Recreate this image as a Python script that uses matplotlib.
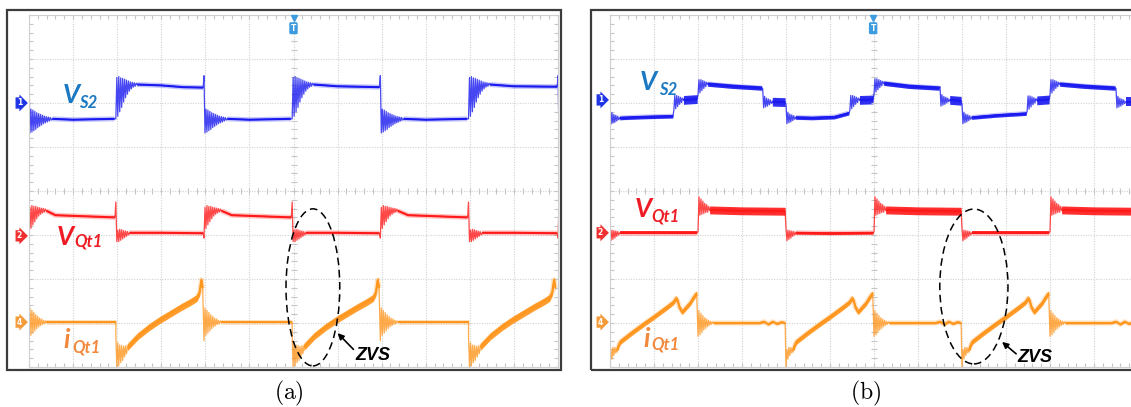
import numpy as np
import matplotlib
matplotlib.use("Agg")
import matplotlib.pyplot as plt
from matplotlib.patches import Ellipse, Rectangle
from matplotlib.ticker import MultipleLocator

plt.rcParams["mathtext.fontset"] = "cm"

# ---------------- panel (a) ----------------
# V_S2: flat segments (time in div, level in div), ringing attached to each segment start
vs2_a_t = [[0.0, 1.0, 1.94], [1.97, 3.0, 3.5, 3.95], [3.97, 5.0, 5.94], [5.97, 7.0, 7.95],
           [7.97, 9.0, 9.94], [9.97, 11.0, 11.98], [12.0, 12.6]]
vs2_a_v = [[1.64, 1.62, 1.64], [2.42, 2.40, 2.36, 2.35], [1.64, 1.62, 1.64], [2.42, 2.38, 2.36],
           [1.64, 1.62, 1.64], [2.42, 2.38, 2.37], [1.64, 1.64]]
ring_vs2_rise_a = [-0.78, 0.16, -0.72, 0.18, -0.62, 0.15, -0.52, 0.14, -0.4, 0.12, -0.3,
                   0.1, -0.22, 0.08, -0.15, 0.06, -0.1, 0.05, -0.06, 0.04, -0.04, 0.03]
ring_vs2_fall_a = [0.98, -0.32, 0.22, -0.3, 0.2, -0.27, 0.17, -0.24, 0.14, -0.2, 0.12, -0.17,
                   0.1, -0.14, 0.08, -0.11, 0.06, -0.09, 0.05, -0.07, 0.04, -0.05, 0.03, -0.03]
vs2_a_rings = [ring_vs2_fall_a, ring_vs2_rise_a, ring_vs2_fall_a, ring_vs2_rise_a,
               ring_vs2_fall_a, ring_vs2_rise_a, ring_vs2_fall_a]

# V_Qt1
vq_a_t = [[0.0, 0.6, 1.95], [1.97, 3.0, 3.95], [3.97, 4.6, 5.95], [5.97, 7.0, 7.95],
          [7.97, 8.6, 9.95], [9.97, 11.0, 11.98], [12.0, 12.5]]
vq_a_v = [[-0.45, -0.55, -0.6], [-0.95, -0.95, -0.96], [-0.45, -0.55, -0.6], [-0.95, -0.95, -0.96],
          [-0.45, -0.55, -0.6], [-0.95, -0.95, -0.96], [-0.45, -0.5]]
ring_vq_rise_a = [-0.62, 0.08, -0.4, 0.12, -0.32, 0.1, -0.25, 0.1, -0.18, 0.08, -0.12, 0.07,
                  -0.08, 0.06, -0.05, 0.05, -0.03, 0.04]
ring_vq_fall_a = [0.7, -0.2, 0.06, -0.2, 0.08, -0.17, 0.07, -0.14, 0.05, -0.11, 0.04, -0.08,
                  0.03, -0.05]
vq_a_rings = [ring_vq_rise_a, ring_vq_fall_a, ring_vq_rise_a, ring_vq_fall_a,
              ring_vq_rise_a, ring_vq_fall_a, ring_vq_rise_a]

# i_Qt1: zero-current flats and the current ramp while the switch conducts
ramp_a_t = [0.0, 0.5, 0.75, 1.0, 1.25, 1.5, 1.7, 1.84, 1.9, 1.94, 1.97]
ramp_a_v = [-3.55, -3.3, -3.1, -2.93, -2.78, -2.63, -2.52, -2.43, -2.3, -2.02, -2.2]
ring_ramp_a = [0.25, -0.45, 0.1, -0.42, 0.05, -0.35, 0.04, -0.3, 0.02, -0.22, 0.03, -0.15]
ring_iq_a = [-0.42, 0.32, -0.3, 0.27, -0.25, 0.22, -0.2, 0.17, -0.15, 0.13, -0.11, 0.09,
             -0.08, 0.07, -0.05, 0.04, -0.04, 0.03]
iq_a_flat_t = [[0.0, 1.97], [3.97, 5.97], [7.97, 9.97]]
iq_a_ramp_start = [1.97, 5.97, 9.97]
iq_a_zero = -2.98

# ---------------- panel (b) ----------------
vs2_b_t = [[0.0, 0.7, 1.43], [1.45, 1.98], [2.0, 2.8, 3.45], [3.47, 3.98], [4.0, 4.6, 5.1, 5.43],
           [5.45, 5.98], [6.0, 6.8, 7.48], [7.5, 7.98], [8.0, 8.8, 9.46], [9.48, 9.98],
           [10.0, 10.8, 11.48], [11.5, 12.0]]
vs2_b_v = [[1.66, 1.68, 1.70], [2.07, 2.09], [2.43, 2.38, 2.34], [2.03, 2.02],
           [1.67, 1.66, 1.68, 1.77], [2.07, 2.08], [2.45, 2.38, 2.34], [2.07, 2.05],
           [1.67, 1.72, 1.76], [2.06, 2.08], [2.43, 2.38, 2.34], [2.03, 2.03]]
vs2_b_band = [0.04, 0.1, 0.05, 0.1, 0.04, 0.1, 0.05, 0.1, 0.04, 0.1, 0.05, 0.1]
ring_vs2_up_b = [-0.25, 0.1, -0.2, 0.1, -0.15, 0.08, -0.1, 0.06, -0.06, 0.04]
ring_vs2_dn_b = [0.3, -0.14, 0.12, -0.12, 0.08, -0.1, 0.06, -0.07, 0.04, -0.04]
vs2_b_rings = [ring_vs2_dn_b, ring_vs2_up_b, ring_vs2_up_b, ring_vs2_dn_b] * 3

vq_b_t = [[0.0, 1.0, 1.98], [2.0, 3.0, 3.98], [4.0, 5.0, 5.98], [6.0, 7.0, 7.98],
          [8.0, 9.0, 9.98], [10.0, 11.0, 12.0]]
vq_b_v = [[-0.95, -0.95, -0.95], [-0.43, -0.45, -0.46], [-0.95, -0.96, -0.95],
          [-0.43, -0.45, -0.46], [-0.95, -0.95, -0.95], [-0.43, -0.45, -0.46]]
vq_b_band = [0.03, 0.09, 0.03, 0.09, 0.03, 0.09]
ring_vq_rise_b = [-0.5, 0.3, -0.12, 0.25, -0.1, 0.2, -0.08, 0.15, -0.06, 0.12, -0.05, 0.08]
ring_vq_fall_b = [0.1, -0.18, 0.06, -0.15, 0.05, -0.12, 0.04, -0.08, 0.03, -0.05]
vq_b_rings = [ring_vq_fall_b, ring_vq_rise_b] * 3

ramp_b_t = [0.0, 0.23, 0.5, 0.8, 1.0, 1.3, 1.45, 1.5, 1.54, 1.58, 1.64, 1.72, 1.82, 1.9, 1.97]
ramp_b_v = [-3.62, -3.43, -3.22, -3.0, -2.86, -2.64, -2.52, -2.44, -2.5, -2.65, -2.75, -2.66,
            -2.55, -2.42, -2.32]
ring_ramp_b = [-0.38, 0.02, -0.2, 0.07, -0.12, 0.06, -0.06]
flat_b_t = [0.0, 1.4, 1.5, 1.6, 1.7, 1.8, 1.9, 1.98]
flat_b_v = [-3.0, -3.0, -2.97, -3.03, -2.97, -3.02, -2.98, -3.0]
ring_iq_b = [-0.3, 0.28, -0.27, 0.22, -0.22, 0.17, -0.16, 0.12, -0.12, 0.09, -0.08, 0.06,
             -0.05, 0.04, -0.03, 0.03]
iq_b_ramp_start = [0.0, 4.0, 8.0]
iq_b_flat_start = [2.0, 6.0, 10.0]

BLUE, RED, ORANGE = "#1a1af0", "#ff1a1a", "#ff961e"
DT = 0.022
W, H = 1131, 407


def px_box(x0, y0, x1, y1):
    return [x0 / W, 1 - y1 / H, (x1 - x0) / W, (y1 - y0) / H]


def build(seg_t, seg_v, rings):
    # full trace plus the settled parts of each segment (drawn heavier)
    t, v, pieces = [], [], []
    for ts, vs, ring in zip(seg_t, seg_v, rings):
        t += [ts[0] + k * DT for k in range(len(ring))]
        v += [vs[0] + r for r in ring]
        pt = [ts[0] + len(ring) * DT] + ts[1:]
        pv = [vs[0]] + vs[1:]
        t += pt
        v += pv
        pieces.append((pt, pv))
    return t, v, pieces


def draw(ax, seg_t, seg_v, rings, color, bands=None):
    t, v, pieces = build(seg_t, seg_v, rings)
    if bands:
        for (pt, pv), bw in zip(pieces, bands):
            ax.fill_between(pt, [y - bw for y in pv], [y + bw for y in pv], color=color, lw=0,
                            alpha=0.9)
    ax.plot(t, v, color=color, lw=0.9, alpha=0.8)
    for pt, pv in pieces:
        ax.plot(pt, pv, color=color, lw=3.6, alpha=0.25, solid_capstyle="butt")
        ax.plot(pt, pv, color=color, lw=1.5, solid_capstyle="butt")


def scope_grid(ax):
    ax.set_xlim(0, 12)
    ax.set_ylim(-4, 4)
    ax.set_xticks(range(13))
    ax.set_yticks(range(-4, 5))
    ax.xaxis.set_minor_locator(MultipleLocator(0.2))
    ax.yaxis.set_minor_locator(MultipleLocator(0.2))
    ax.tick_params(which="both", direction="in", length=3, color="#c6c6c6", width=0.8,
                   top=True, right=True, labelbottom=False, labelleft=False)
    ax.grid(True, color="#d2d2d2", lw=0.8, ls=(0, (1, 1.3)))
    for s in ax.spines.values():
        s.set_color("#cfcfcf")
        s.set_linewidth(0.8)
    ax.set_axisbelow(True)
    marks = np.arange(0, 12.01, 0.2)
    ax.plot(marks, np.zeros_like(marks), ls="none", marker="|", ms=5, color="#c6c6c6", mew=0.8)
    ymarks = np.arange(-4, 4.01, 0.2)
    ax.plot(np.full_like(ymarks, 6.0), ymarks, ls="none", marker="_", ms=5, color="#c6c6c6", mew=0.8)


def scope_marks(ax, trig_x, ch_levels):
    ax.plot(trig_x, 3.93, marker="v", ms=5, color="#3d9be0", clip_on=False, zorder=6)
    ax.text(trig_x, 3.7, "T", ha="center", va="center", fontsize=5.5, color="white",
            fontweight="bold", zorder=6,
            bbox=dict(boxstyle="round,pad=0.2", fc="#3d9be0", ec="none"))
    for (num, lvl), col in zip(ch_levels, ["#2036e6", "#f03030", "#f49b3a"]):
        ax.text(-0.22, lvl, num, ha="center", va="center", fontsize=5.5, color="white",
                fontweight="bold", clip_on=False,
                bbox=dict(boxstyle="rarrow,pad=0.15", fc=col, ec="none"))


def name(ax, x, y, main, sx, sy, sub, color, size=19):
    kw = dict(color=color, fontweight="bold", style="italic", family=["Lato", "DejaVu Sans"],
              va="baseline", ha="left", zorder=7)
    ax.text(x, y, main, fontsize=size, **kw)
    ax.text(sx, sy, sub, fontsize=12, **kw)


fig = plt.figure(figsize=(W / 100, H / 100), dpi=100)
fig.patch.set_facecolor("white")

for box in [(7, 10, 561, 370), (591, 10, 1145, 370)]:
    x0, y0, x1, y1 = box
    fig.add_artist(Rectangle((x0 / W, 1 - y1 / H), (x1 - x0) / W, (y1 - y0) / H,
                             transform=fig.transFigure, fill=False, ec="#3c3c3c", lw=1.6))

ax_a = fig.add_axes(px_box(29, 15, 558, 367))
ax_b = fig.add_axes(px_box(610, 15, 1138, 367))
for ax in (ax_a, ax_b):
    scope_grid(ax)

# panel (a) traces
draw(ax_a, vs2_a_t, vs2_a_v, vs2_a_rings, BLUE)
draw(ax_a, vq_a_t, vq_a_v, vq_a_rings, RED)
iq_t, iq_v, iq_r, iq_bw = [], [], [], []
for flat, t0 in zip(iq_a_flat_t, iq_a_ramp_start):
    iq_t += [flat, [t0 + r for r in ramp_a_t]]
    iq_v += [[iq_a_zero, iq_a_zero], ramp_a_v]
    iq_r += [ring_iq_a, ring_ramp_a]
    iq_bw += [0.02, 0.08]
draw(ax_a, iq_t, iq_v, iq_r, ORANGE, iq_bw)

# panel (b) traces
draw(ax_b, vs2_b_t, vs2_b_v, vs2_b_rings, BLUE, vs2_b_band)
draw(ax_b, vq_b_t, vq_b_v, vq_b_rings, RED, vq_b_band)
iq_t, iq_v, iq_r, iq_bw = [], [], [], []
for t0, t1 in zip(iq_b_ramp_start, iq_b_flat_start):
    iq_t += [[t0 + r for r in ramp_b_t], [t1 + r for r in flat_b_t]]
    iq_v += [ramp_b_v, flat_b_v]
    iq_r += [ring_ramp_b, ring_iq_b]
    iq_bw += [0.06, 0.02]
draw(ax_b, iq_t, iq_v, iq_r, ORANGE, iq_bw)

scope_marks(ax_a, 6.0, [("1", 2.0), ("2", -1.02), ("4", -2.98)])
scope_marks(ax_b, 5.98, [("1", 2.07), ("2", -0.95), ("4", -2.98)])

# signal names
name(ax_a, 0.77, 2.0, "V", 1.13, 1.89, "S2", "#1b78c2")
name(ax_a, 0.63, -1.23, "V", 1.02, -1.27, "Qt1", "#ee1c24")
name(ax_a, 0.77, -3.57, "i", 0.98, -3.66, "Qt1", "#f2883c")
name(ax_b, 0.68, 2.3, "V", 1.11, 2.18, "S2", "#1b78c2")
name(ax_b, 0.57, -0.59, "V", 0.95, -0.7, "Qt1", "#ee1c24")
name(ax_b, 0.75, -3.55, "i", 0.95, -3.61, "Qt1", "#f2883c")

# ZVS callouts
for ax, (cx, cy, w, h), tail, head, txt in [
        (ax_a, (6.44, -2.19, 1.22, 3.57), (7.36, -3.6), (7.0, -3.23), (7.41, -3.84)),
        (ax_b, (8.27, -2.17, 1.55, 3.52), (9.23, -3.7), (8.91, -3.43), (9.27, -3.89))]:
    ax.add_patch(Ellipse((cx, cy), w, h, fill=False, ec="black", lw=1.1, ls=(0, (5, 3)), zorder=8))
    ax.annotate("", xy=head, xytext=tail, zorder=8,
                arrowprops=dict(arrowstyle="-|>", color="black", lw=1.2, mutation_scale=9,
                                shrinkA=0, shrinkB=0))
    ax.text(txt[0], txt[1], "ZVS", fontsize=13, fontweight="bold", style="italic",
            family="Liberation Sans", va="baseline", ha="left", zorder=8)

fig.text(289 / W, 1 - 393 / H, r"$\mathrm{(a)}$", ha="center", va="center", fontsize=17)
fig.text(866 / W, 1 - 393 / H, r"$\mathrm{(b)}$", ha="center", va="center", fontsize=17)

fig.savefig("out.png", dpi=100, facecolor="white")
